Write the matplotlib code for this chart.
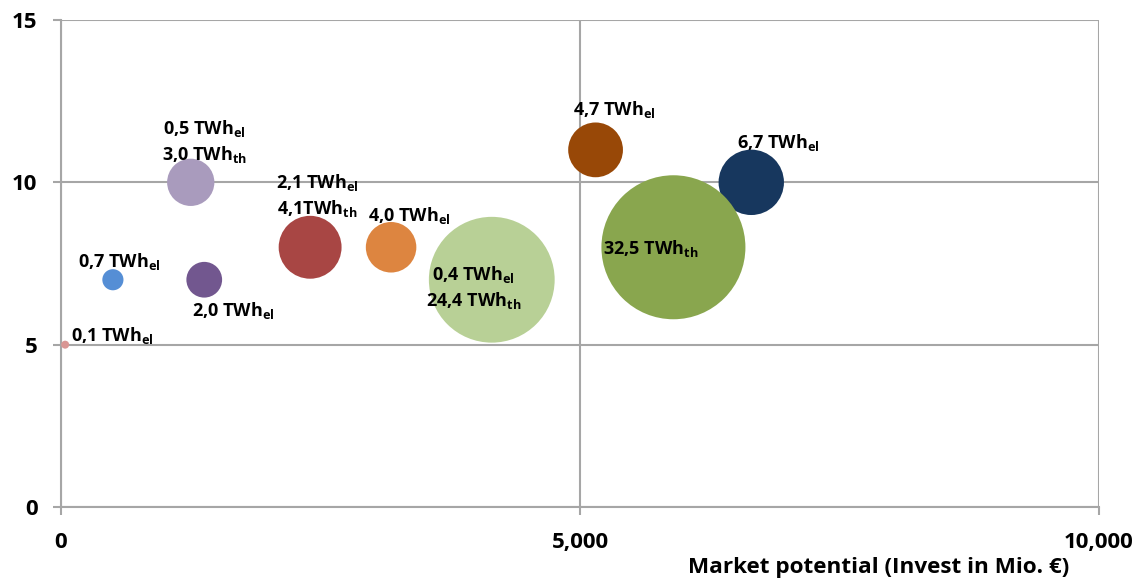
import matplotlib
matplotlib.use("Agg")
import matplotlib.pyplot as plt
from matplotlib.ticker import FuncFormatter
import numpy as np

plt.rcParams['font.family'] = ['Open Sans', 'DejaVu Sans']
plt.rcParams['font.weight'] = 'bold'
plt.rcParams['mathtext.fontset'] = 'custom'
plt.rcParams['mathtext.rm'] = 'Open Sans:bold'
plt.rcParams['mathtext.it'] = 'Open Sans:bold'
plt.rcParams['mathtext.bf'] = 'Open Sans:bold'

# data: market potential (Mio. EUR), y value, energy in TWh (bubble size)
invest = [40, 500, 1250, 1380, 2400, 3180, 4150, 6650, 5150, 5900]
yvals = [5, 7, 10, 7, 8, 8, 7, 10, 11, 8]
twh = [0.1, 0.7, 3.5, 2.0, 6.2, 4.0, 24.8, 6.7, 4.7, 32.5]
labels = [
    "0,1 TWh$_{\\rm el}$",
    "0,7 TWh$_{\\rm el}$",
    "0,5 TWh$_{\\rm el}$\n3,0 TWh$_{\\rm th}$",
    "2,0 TWh$_{\\rm el}$",
    "2,1 TWh$_{\\rm el}$\n4,1TWh$_{\\rm th}$",
    "4,0 TWh$_{\\rm el}$",
    "0,4 TWh$_{\\rm el}$\n24,4 TWh$_{\\rm th}$",
    "6,7 TWh$_{\\rm el}$",
    "4,7 TWh$_{\\rm el}$",
    "32,5 TWh$_{\\rm th}$",
]
colors = ['#d99694', '#558ed5', '#a99bbd', '#72578f', '#a84644',
          '#dd8540', '#b8d096', '#17375e', '#984807', '#89a64e']
# label offsets (pixels, first line baseline) relative to bubble centre
offsets = [(47, 4), (6, 13), (14, 48), (29, -36), (7, 59),
           (18, 26), (-18, 0), (27, 34), (19, 35), (-23, -7)]

fig = plt.figure(figsize=(11.43, 5.81), dpi=100)
ax = fig.add_axes([61 / 1143, 74 / 581, 1038 / 1143, 487 / 581])

px2pt = 0.72
smax = (2 * 72 * px2pt) ** 2
sizes = [smax * v / 32.5 for v in twh]
ax.scatter(invest, yvals, s=sizes, c=colors, edgecolors='none', zorder=3, clip_on=False)

for x, y, lab, (dx, dy) in zip(invest, yvals, labels, offsets):
    lines = lab.split("\n")
    for i, line in enumerate(lines):
        ax.annotate(line, (x, y), xytext=(dx * px2pt, (dy - 26 * i) * px2pt),
                    textcoords='offset points', ha='center', va='baseline',
                    fontsize=13, fontweight='bold', color='black', zorder=5)

ax.set_xlim(0, 10000)
ax.set_ylim(0, 15)
ax.set_xticks([0, 5000, 10000])
ax.set_yticks([0, 5, 10, 15])
ax.xaxis.set_major_formatter(FuncFormatter(lambda v, p: f"{int(v):,}"))
ax.grid(True, color='#a6a6a6', linewidth=1.5, zorder=0)
ax.set_axisbelow(True)
for s in ['top', 'right']:
    ax.spines[s].set_visible(False)
for s in ['left', 'bottom']:
    ax.spines[s].set_color('#a6a6a6')
    ax.spines[s].set_linewidth(1.5)
ax.tick_params(axis='both', colors='#a6a6a6', width=1.5, length=6, labelcolor='black',
               labelsize=16)
ax.tick_params(axis='x', pad=12)
ax.tick_params(axis='y', pad=11)
for t in ax.get_xticklabels() + ax.get_yticklabels():
    t.set_fontweight('bold')

fig.text(1069 / 1143, 1 - 567 / 581, "Market potential (Invest in Mio. €)",
         ha='right', va='center', fontsize=16.2, fontweight='bold')

fig.savefig("out.png", dpi=100)
